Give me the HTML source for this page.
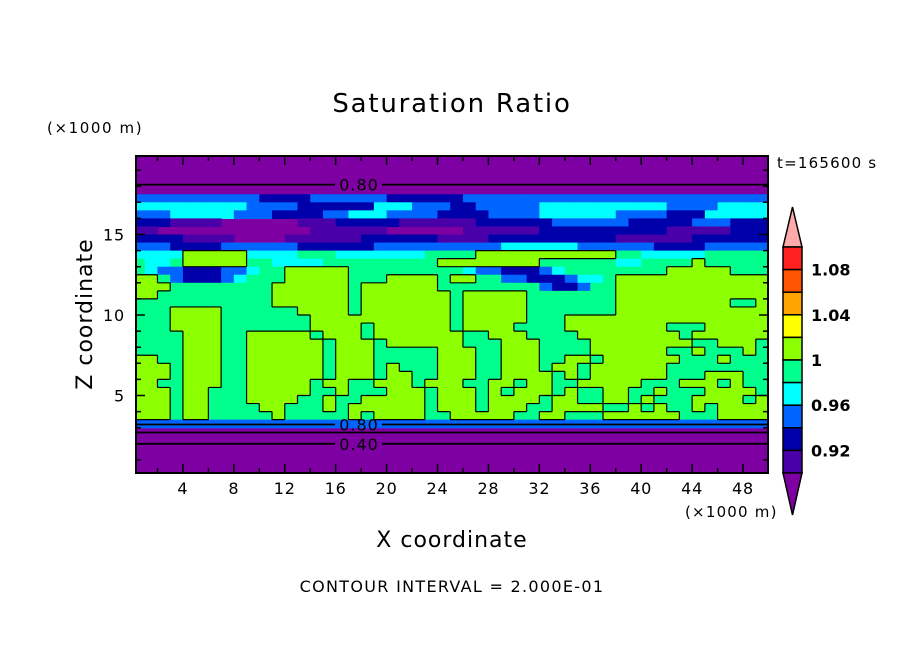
<!DOCTYPE html>
<html><head><meta charset="utf-8">
<style>
html,body{margin:0;padding:0;background:#fff;}
svg text{font-family:"DejaVu Sans","Liberation Sans",sans-serif;fill:#000;}
</style></head>
<body>
<svg id="chart" width="904" height="654" viewBox="0 0 904 654" xmlns="http://www.w3.org/2000/svg">
<defs><clipPath id="plotclip"><rect x="136" y="156" width="632" height="317"/></clipPath></defs>
<text x="452" y="112" font-size="26" letter-spacing="1.8" text-anchor="middle">Saturation Ratio</text>
<text x="47" y="133" font-size="15" letter-spacing="1.6">(×1000 m)</text>
<text x="777" y="168" font-size="15" letter-spacing="1.2">t=165600 s</text>
<text x="92" y="314" font-size="22" letter-spacing="1" text-anchor="middle" transform="rotate(-90 92 314)">Z coordinate</text>
<text x="452" y="547" font-size="22" letter-spacing="1" text-anchor="middle">X coordinate</text>
<text x="685" y="517" font-size="15" letter-spacing="1.2">(×1000 m)</text>
<text x="452" y="592" font-size="16" letter-spacing="1.3" text-anchor="middle">CONTOUR INTERVAL = 2.000E-01</text>
<g id="field" clip-path="url(#plotclip)"></g>
<g id="lines" clip-path="url(#plotclip)"></g>
<g id="axes"></g>
<g id="cbar"></g>
</svg>
<script>
// data: level codes per row (top z=20 down, 0.5 km rows), RLE "level x count", 1 km columns
const fieldRows = [
"0x50","0x50","0x50","0x50","0x50",
"3x10 2x4 3x6 2x6 3x24",
"4x9 3x4 2x6 4x3 3x3 2x2 3x5 4x10 3x4 4x4",
"3x3 4x5 3x3 2x4 3x2 4x3 3x4 2x4 3x4 4x6 3x4 2x3 4x5",
"2x3 1x4 0x6 1x3 2x5 1x6 2x6 3x6 2x5 3x3 2x3",
"1x2 0x12 1x6 0x6 1x6 2x10 1x5 2x3",
"2x4 1x4 0x4 1x6 2x6 1x4 2x10 1x6 2x6",
"3x3 2x4 3x6 2x6 3x10 4x6 3x6 2x4 3x5",
"4x4 6x5 4x4 5x3 4x7 5x4 6x11 5x2 4x5 5x5",
"5x1 4x2 5x1 6x5 5x2 4x4 5x9 6x8 5x6 4x2 5x4 6x1 5x5",
"5x1 4x1 3x2 2x3 3x2 4x1 5x2 6x5 5x9 4x1 3x2 2x3 3x1 4x1 5x8 6x5 5x3",
"6x2 5x1 3x1 2x3 3x1 4x1 5x3 6x5 5x3 6x4 5x1 6x2 5x2 3x2 2x3 3x1 4x2 5x1 6x12",
"6x3 5x8 6x6 5x1 6x6 5x8 3x1 2x2 3x1 5x2 6x12",
"6x2 5x9 6x6 5x1 6x7 5x1 6x5 5x7 6x12",
"5x11 6x6 5x1 6x7 5x1 6x5 5x7 6x9 5x2 6x1",
"5x3 6x4 5x6 6x4 5x1 6x7 5x1 6x5 5x7 6x12",
"5x3 6x4 5x7 6x11 5x1 6x5 5x3 6x16",
"5x3 6x4 5x7 6x4 5x1 6x6 5x1 6x4 5x4 6x8 5x3 6x5",
"5x4 6x3 5x2 6x5 5x1 6x3 5x1 6x7 5x2 6x3 5x4 6x8 5x1 6x6",
"5x4 6x3 5x2 6x6 5x1 6x3 5x1 6x6 5x3 6x3 5x4 6x8 5x2 6x3 5x1",
"5x4 6x3 5x2 6x6 5x1 6x3 5x5 6x3 5x2 6x3 5x4 6x6 5x2 6x1 5x3 6x1 5x1",
"6x2 5x2 6x3 5x2 6x6 5x1 6x3 5x5 6x3 5x2 6x3 5x2 6x2 5x1 6x6 5x3 6x1 5x3",
"6x3 5x1 6x3 5x2 6x6 5x1 6x3 5x1 6x1 5x3 6x3 5x2 6x3 5x1 6x2 5x1 6x6 5x8",
"6x3 5x1 6x3 5x2 6x6 5x1 6x3 5x1 6x2 5x2 6x3 5x2 6x4 5x1 6x1 5x1 6x6 5x3 6x3 5x2",
"6x2 5x2 6x3 5x2 6x5 5x1 6x2 5x2 6x3 5x1 6x3 5x2 6x2 5x1 6x2 5x2 6x5 5x3 6x3 5x1 6x1 5x2",
"6x3 5x1 6x2 5x3 6x5 5x2 6x1 5x3 6x3 5x1 6x3 5x1 6x1 5x1 6x3 5x1 6x1 5x2 6x2 5x2 6x1 5x3 6x4 5x1",
"6x3 5x1 6x2 5x3 6x4 5x2 6x1 5x2 6x5 5x1 6x3 5x1 6x4 5x1 6x2 5x2 6x2 5x1 6x1 5x3 6x4 5x1 6x1",
"6x3 5x1 6x2 5x4 6x2 5x3 6x1 5x1 6x6 5x1 6x3 5x1 6x3 5x2 6x4 5x2 6x1 5x1 6x1 5x2 6x1 5x1 6x4",
"6x3 5x1 6x2 5x5 6x1 5x5 6x1 5x1 6x4 5x2 6x5 5x2 6x2 5x3 6x6 5x3 6x4",
"3x50",
"0x50","0x50","0x50","0x50","0x50","0x50"
];
const levelColors = ["#7f00a2","#4a00a8","#0000aa","#0064ff","#00ffff","#00ff8c","#8cff00"];
const horizLineZ = [18.1, 3.2, 2.7, 2.0];
const horizLineLabels = ["0.80","0.80","","0.40"];
const xTicks = [4,8,12,16,20,24,28,32,36,40,44,48];
const yTicks = [5,10,15];
const cbarColors = ["#ff2020","#ff5500","#ffa500","#ffff00","#8cff00","#00ff8c","#00ffff","#0064ff","#0000aa","#4a00a8"];
const cbarLabels = ["1.08","1.04","1","0.96","0.92"];

const NS="http://www.w3.org/2000/svg";
const X = km => 132 + 12.73*km;
const Y = z => 476 - 16.1*z;
function mk(tag, attrs, parent){const e=document.createElementNS(NS,tag);for(const k in attrs)e.setAttribute(k,attrs[k]);parent.appendChild(e);return e;}
function expand(s){const out=[];s.split(" ").forEach(t=>{const [l,c]=t.split("x").map(Number);for(let i=0;i<c;i++)out.push(l);});while(out.length<50)out.push(out[out.length-1]);return out.slice(0,50);}

const grid = fieldRows.map(expand);
const field=document.getElementById("field");
mk("rect",{x:136,y:156,width:632,height:317,fill:levelColors[0]},field);
grid.forEach((row,r)=>{
  const z0=20-0.5*r, z1=z0-0.5;
  row.forEach((lv,k)=>{
    if(lv===0)return;
    const c=mk("rect",{x:X(k),y:Y(z0),width:X(k+1)-X(k)+0.6,height:Y(z1)-Y(z0)+0.6,fill:levelColors[lv]},field);
    
    
  });
});
const lines=document.getElementById("lines");
let d="";
grid.forEach((row,r)=>{
  const z0=20-0.5*r, z1=z0-0.5;
  row.forEach((lv,k)=>{
    const on=lv===6;
    if(k<49 && on!==(row[k+1]===6)) d+=`M${X(k+1)},${Y(z0)}V${Y(z1)}`;
    if(r<grid.length-1 && on!==(grid[r+1][k]===6)) d+=`M${X(k)},${Y(z1)}H${X(k+1)}`;
  });
});
const cp=mk("path",{d:d,stroke:"#000","stroke-width":1.2,fill:"none"},lines);


horizLineZ.forEach((z,i)=>{
  const y=Y(z);
  const lab=horizLineLabels[i];
  const l=mk("path",{d:lab?`M136,${y}H335M382,${y}H768`:`M136,${y}H768`,stroke:"#000","stroke-width":1.8,fill:"none"},lines);
  
  
  if(lab){const t=mk("text",{x:359,y:y+6,"font-size":16,"letter-spacing":1,"text-anchor":"middle"},lines);t.textContent=lab;
    
    }
});
const axes=document.getElementById("axes");
mk("rect",{x:136,y:156,width:632,height:317,fill:"none",stroke:"#000","stroke-width":2},axes);
let td="";
for(let k=2;k<=50;k+=2){const x=X(k);if(x>767)continue;const L=(k%4===0)?9:5;td+=`M${x},473v${-L}M${x},156v${L}`;}
for(let z=1;z<=19;z++){const y=Y(z);const L=(z%5===0)?9:5;td+=`M136,${y}h${L}M768,${y}h${-L}`;}
const tk=mk("path",{d:td,stroke:"#000","stroke-width":1.5,fill:"none"},axes);


xTicks.forEach(v=>{const t=mk("text",{x:X(v),y:494,"font-size":16,"letter-spacing":0.8,"text-anchor":"middle"},axes);t.textContent=v;
  
  });
yTicks.forEach(v=>{const t=mk("text",{x:125,y:Y(v)+6,"font-size":16,"letter-spacing":0.8,"text-anchor":"end"},axes);t.textContent=v;
  
  });
const cb=document.getElementById("cbar");
const bx=783,bw=19,btop=247,bh=22.6;
const tri=mk("polygon",{points:`${bx},${btop} ${bx+bw/2},207 ${bx+bw},${btop}`,fill:"#ffaaaa",stroke:"#000","stroke-width":1.5},cb);


cbarColors.forEach((c,i)=>{const r=mk("rect",{x:bx,y:btop+i*bh,width:bw,height:bh,fill:c,stroke:"#000","stroke-width":1.5},cb);
  
  });
const bb=btop+cbarColors.length*bh;
const tri2=mk("polygon",{points:`${bx},${bb} ${bx+bw/2},515 ${bx+bw},${bb}`,fill:levelColors[0],stroke:"#000","stroke-width":1.5},cb);


cbarLabels.forEach((s,i)=>{const t=mk("text",{x:811,y:btop+bh*(1+2*i)+6,"font-size":16,"font-weight":"bold"},cb);t.textContent=s;
  
  });
</script>
</body></html>
